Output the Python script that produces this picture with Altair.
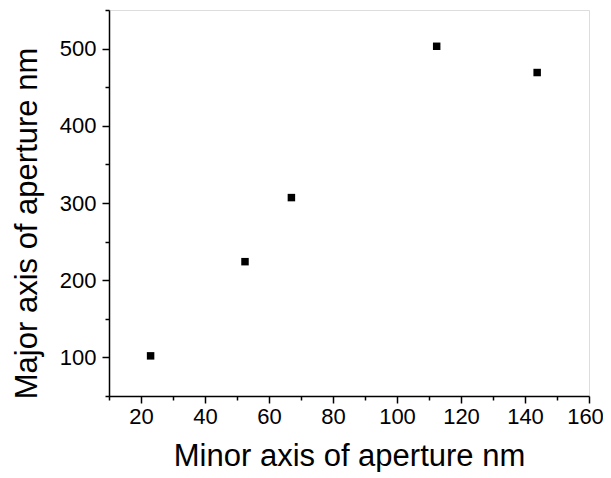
import altair as alt
import pandas as pd

minor_axis = [23.0, 52.5, 67.0, 112.4, 143.8]
major_axis = [102, 224, 307, 503, 469]

df = pd.DataFrame({"x": minor_axis, "y": major_axis})

x_ticks = list(range(10, 161, 10))
y_ticks = list(range(50, 551, 50))

font = "Liberation Sans"

chart = alt.Chart(df).mark_square(size=56, color="black", opacity=1).encode(
    x=alt.X("x:Q", scale=alt.Scale(domain=[10, 160], nice=False, zero=False),
            axis=alt.Axis(values=x_ticks, title="Minor axis of aperture nm",
                          labelExpr="datum.value % 20 === 0 ? datum.label : ''",
                          tickSize={"condition": {"test": "datum.value % 20 === 0", "value": 7}, "value": 4},
                          labelOffset={"condition": {"test": "datum.value === 160", "value": -4}, "value": 0},
                          labelPadding=3, titlePadding=14)),
    y=alt.Y("y:Q", scale=alt.Scale(domain=[50, 550], nice=False, zero=False),
            axis=alt.Axis(values=y_ticks, title="Major axis of aperture nm",
                          labelExpr="datum.value % 100 === 0 && datum.value >= 100 && datum.value <= 500 ? datum.label : ''",
                          tickSize={"condition": {"test": "datum.value % 100 === 0", "value": 7}, "value": 4},
                          labelPadding=6, titlePadding=16, titleY=213)),
).properties(
    width=480, height=386,
    autosize="none",
    padding={"left": 101, "top": 2, "right": 14, "bottom": 76},
).configure_view(stroke=None).configure(background="white").configure_axis(
    grid=False, domainColor="black", domainWidth=1.5,
    tickColor="black", tickWidth=1.5, labelColor="black",
    labelFont=font, labelFontSize=22, labelFlush=False,
    titleFont=font, titleFontSize=31, titleFontWeight="normal", titleColor="black",
)

chart.save("out.html", embed_options={"renderer": "svg", "actions": False})
